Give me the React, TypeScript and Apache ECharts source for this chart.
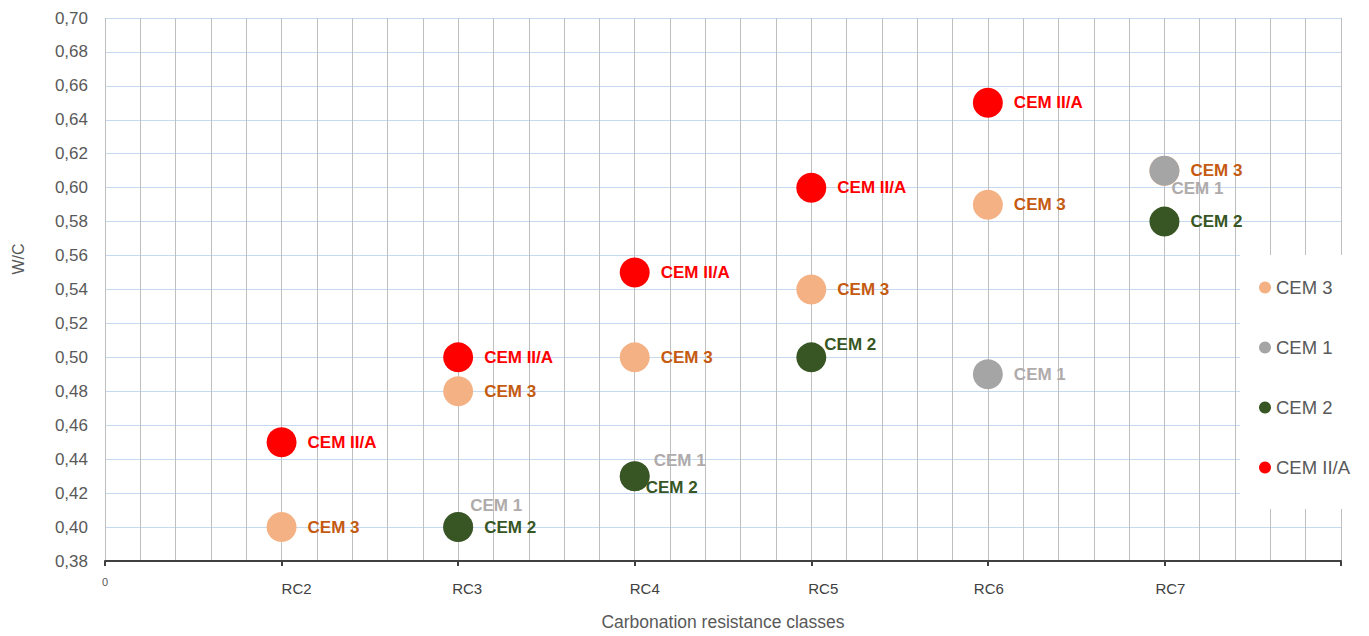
import React, { useEffect, useRef } from "react";
import * as echarts from "echarts";

const categories = ["0", "RC2", "RC3", "RC4", "RC5", "RC6", "RC7", ""];
const cem3 = [[1, 0.40], [2, 0.48], [3, 0.50], [4, 0.54], [5, 0.59], [6, 0.61]];
const cem1 = [[2, 0.40], [3, 0.43], [5, 0.49], [6, 0.61]];
const cem2 = [[2, 0.40], [3, 0.43], [4, 0.50], [6, 0.58]];
const cem2a = [[1, 0.45], [2, 0.50], [3, 0.55], [4, 0.60], [5, 0.65]];

const seriesNames = ["CEM 3", "CEM 1", "CEM 2", "CEM II/A"];
const pointColors = ["#F4B183", "#A5A5A5", "#375623", "#FF0000"];
const labelColors = ["#C55A11", "#AFABAB", "#375623", "#FF0000"];

const FONT = "'Liberation Sans', Arial, sans-serif";

// horizontal nudges (px) of the category labels, as drawn in the original
const labelNudge = [0, 15, 9, 10, 12, 1, 6, 0];

// label offsets for overlapping points: key "series|x|y"
const labelOffsets: Record<string, number[]> = {
  "CEM 1|2|0.4": [-14, -22],
  "CEM 1|3|0.43": [-7, -16],
  "CEM 2|3|0.43": [-15, 11],
  "CEM 1|6|0.61": [-19, 18],
  "CEM 2|4|0.5": [-13, -13],
};

function buildSeries(name: string, data: number[][], idx: number) {
  return {
    type: "scatter",
    name,
    symbol: "circle",
    symbolSize: 30,
    itemStyle: { color: pointColors[idx], opacity: 1 },
    label: {
      show: true,
      position: "right",
      distance: 11,
      formatter: "{a}",
      color: labelColors[idx],
      fontWeight: "bold",
      fontSize: 17,
      fontFamily: FONT,
    },
    data: data.map((d) => {
      const key = `${name}|${d[0]}|${d[1]}`;
      const off = labelOffsets[key];
      return off ? { value: d, label: { offset: off } } : { value: d };
    }),
  };
}

const rich: Record<string, any> = {
  z: { fontSize: 11, color: "#595959", fontFamily: FONT, padding: [5, 0, 0, 0] },
};
labelNudge.forEach((n, i) => {
  rich["rc" + i] = {
    fontSize: 15,
    color: "#404040",
    fontFamily: FONT,
    padding: [10, 0, 0, n * 2],
  };
});

export default function App() {
  const ref = useRef<HTMLDivElement>(null);
  useEffect(() => {
    if (!ref.current) return;
    const chart = echarts.init(ref.current, null, { renderer: "svg" });
    chart.setOption({
      animation: false,
      backgroundColor: "#fff",
      textStyle: { fontFamily: FONT },
      grid: { left: 105, right: 28, top: 18, bottom: 68 },
      xAxis: {
        type: "value",
        min: 0,
        max: 7,
        interval: 1,
        name: "Carbonation resistance classes",
        nameLocation: "middle",
        nameGap: 52,
        nameTextStyle: { color: "#595959", fontSize: 17.5, fontFamily: FONT },
        axisLine: { show: true, lineStyle: { color: "#404040", width: 2 } },
        axisTick: { show: true, length: 5, lineStyle: { color: "#404040", width: 2 } },
        axisLabel: {
          margin: 10,
          formatter: (v: number) => {
            const i = Math.round(v);
            const c = categories[i] ?? "";
            if (c === "") return "";
            return i === 0 ? `{z|${c}}` : `{rc${i}|${c}}`;
          },
          rich,
        },
        splitLine: { show: true, lineStyle: { color: "#BFBFBF", width: 1 } },
        minorTick: { show: false, splitNumber: 5 },
        minorSplitLine: { show: true, lineStyle: { color: "#BFBFBF", width: 1 } },
      },
      yAxis: {
        type: "value",
        min: 0.38,
        max: 0.7,
        interval: 0.02,
        axisLine: { show: false },
        axisTick: { show: false },
        axisLabel: {
          margin: 17,
          fontSize: 17,
          color: "#595959",
          fontFamily: FONT,
          formatter: (v: number) => v.toFixed(2).replace(".", ","),
        },
        splitLine: { show: true, lineStyle: { color: "#C5D9F1", width: 1 } },
      },
      legend: {
        orient: "vertical",
        left: 1240,
        top: 255,
        width: 129,
        data: seriesNames,
        icon: "circle",
        itemWidth: 12,
        itemHeight: 12,
        itemGap: 41,
        padding: [23, 10, 32, 19],
        backgroundColor: "#fff",
        textStyle: { fontSize: 18.5, color: "#595959", fontFamily: FONT, lineHeight: 18 },
      },
      graphic: [
        {
          type: "text",
          x: 18,
          y: 259,
          rotation: Math.PI / 2,
          style: {
            text: "W/C",
            fill: "#595959",
            fontSize: 16,
            fontFamily: FONT,
            align: "center",
            verticalAlign: "middle",
          },
        },
      ],
      series: [
        buildSeries(seriesNames[0], cem3, 0),
        buildSeries(seriesNames[1], cem1, 1),
        buildSeries(seriesNames[2], cem2, 2),
        buildSeries(seriesNames[3], cem2a, 3),
      ],
    });
    return () => chart.dispose();
  }, []);
  return (
    <div
      ref={ref}
      style={{ position: "fixed", left: 0, top: 0, width: 1369, height: 636 }}
    />
  );
}
